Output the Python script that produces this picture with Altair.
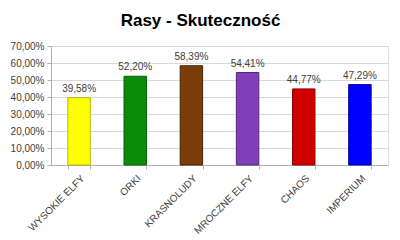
import altair as alt
import pandas as pd

categories = ["WYSOKIE ELFY", "ORKI", "KRASNOLUDY", "MROCZNE ELFY", "CHAOS", "IMPERIUM"]
values = [0.3958, 0.5220, 0.5839, 0.5441, 0.4477, 0.4729]
colors = ["#FFFF00", "#0A8C0A", "#7A3D0A", "#7E3FB8", "#D00000", "#0000FF"]
strokes = ["#B8B800", "#066006", "#4A2406", "#55287E", "#900000", "#0000A8"]

df = pd.DataFrame({"cat": categories, "val": values, "col": colors, "stk": strokes})

x = alt.X("cat:N", sort=categories, title=None,
          scale=alt.Scale(paddingInner=0.6, paddingOuter=0.3),
          axis=alt.Axis(labelAngle=-45, labelAlign="right", labelBaseline="top",
                        labelFontSize=10, labelColor="#404040", labelFont="Liberation Sans",
                        tickBand="extent", tickColor="#B0B0B0", tickSize=4,
                        domainColor="#B0B0B0", labelPadding=4, grid=False))
y = alt.Y("val:Q", title=None,
          scale=alt.Scale(domain=[0, 0.7]),
          axis=alt.Axis(values=[0, 0.1, 0.2, 0.3, 0.4, 0.5, 0.6, 0.7],
                        labelExpr="replace(format(datum.value, '.2%'), '.', ',')",
                        labelFontSize=10, labelColor="#404040", labelFont="Liberation Sans",
                        gridColor="#D9D9D9", domainColor="#B0B0B0", tickColor="#B0B0B0",
                        tickSize=4, labelPadding=3))

base = alt.Chart(df).encode(x=x, y=y)

bars = base.mark_bar(strokeWidth=1).encode(
    color=alt.Color("col:N", scale=None),
    stroke=alt.Stroke("stk:N", scale=None),
)

labels = base.transform_calculate(
    lab="replace(format(datum.val, '.2%'), '.', ',')"
).mark_text(dy=-9, fontSize=10, color="#404040", font="Liberation Sans").encode(text="lab:N")

chart = alt.layer(bars, labels).properties(
    width=337, height=119,
    title=alt.TitleParams("Rasy - Skuteczność", fontSize=17, font="Liberation Sans",
                          fontWeight="bold", color="#000000", dx=-19, offset=11),
    autosize=alt.AutoSizeParams(type="none"),
    padding={"left": 51, "top": 46, "right": 12, "bottom": 75},
).configure_view(stroke=None).configure(background="white")

chart.save("out.html", embed_options={"renderer": "svg", "actions": False})
